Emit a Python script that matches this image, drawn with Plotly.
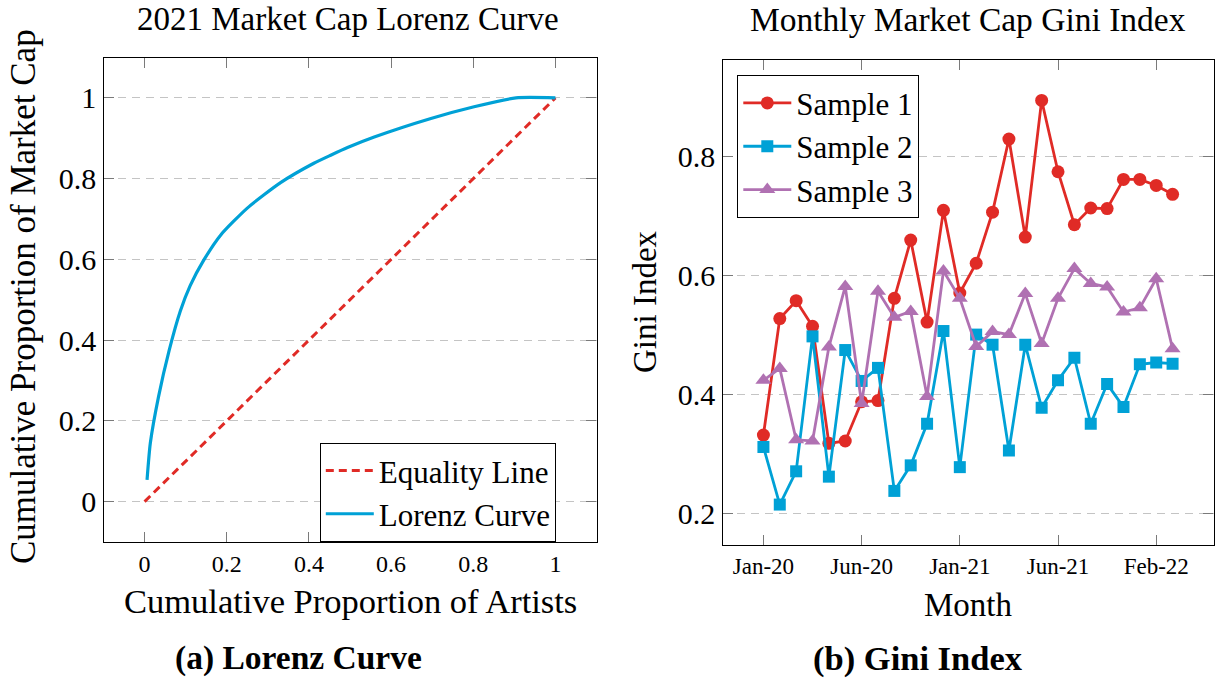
import plotly.graph_objects as go

# ---------------- data ----------------
lorenz_x = [0.006, 0.014, 0.034, 0.06, 0.087, 0.111, 0.144, 0.185, 0.25, 0.331,
            0.412, 0.453, 0.494, 0.559, 0.697, 0.802, 0.904, 1.0]
lorenz_y = [0.054, 0.145, 0.26, 0.375, 0.472, 0.535, 0.598, 0.660, 0.727, 0.790,
            0.838, 0.858, 0.877, 0.903, 0.949, 0.978, 1.0, 1.0]
equality_x = [0, 1]
equality_y = [0, 1]

lorenz_ticks = [0, 0.2, 0.4, 0.6, 0.8, 1]
lorenz_ticktext = ["0", "0.2", "0.4", "0.6", "0.8", "1"]

month_index = list(range(26))
sample1 = [0.332, 0.528, 0.558, 0.515, 0.318, 0.322, 0.388, 0.390, 0.562, 0.660, 0.522, 0.710,
           0.571, 0.621, 0.707, 0.830, 0.665, 0.895, 0.775, 0.686, 0.714, 0.713, 0.762, 0.762,
           0.752, 0.737]
sample2 = [0.312, 0.215, 0.271, 0.498, 0.262, 0.475, 0.423, 0.445, 0.238, 0.281, 0.351, 0.507,
           0.278, 0.501, 0.484, 0.306, 0.484, 0.378, 0.424, 0.462, 0.351, 0.418, 0.379, 0.451,
           0.454, 0.452]
sample3 = [0.424, 0.444, 0.324, 0.322, 0.480, 0.582, 0.385, 0.574, 0.530, 0.540, 0.397, 0.608,
           0.562, 0.481, 0.506, 0.501, 0.570, 0.486, 0.562, 0.612, 0.587, 0.581, 0.539, 0.546,
           0.595, 0.477]
month_tickvals = [0, 6, 12, 18, 24]
month_ticktext = ["Jan-20", "Jun-20", "Jan-21", "Jun-21", "Feb-22"]
gini_ticks = [0.2, 0.4, 0.6, 0.8]
gini_ticktext = ["0.2", "0.4", "0.6", "0.8"]

# ---------------- styling ----------------
FONT = "Liberation Serif"
RED = "#E02B26"
BLUE = "#00A1D6"
PURPLE = "#B071B2"
GRID = "#C4C4C4"
TICKC = "#7A7A7A"

W, H = 1215, 678


def px_x(p):
    return p / W


def px_y(p):
    return 1 - p / H


fig = go.Figure()

fig.add_trace(go.Scatter(x=equality_x, y=equality_y, mode="lines", name="Equality Line",
                         line=dict(color=RED, width=3, dash="8px,5px"),
                         xaxis="x", yaxis="y", legend="legend"))
fig.add_trace(go.Scatter(x=lorenz_x, y=lorenz_y, mode="lines", name="Lorenz Curve",
                         line=dict(color=BLUE, width=3.2, shape="spline", smoothing=0.6),
                         xaxis="x", yaxis="y", legend="legend"))

fig.add_trace(go.Scatter(x=month_index, y=sample1, mode="lines+markers", name="Sample 1",
                         line=dict(color=RED, width=2.8),
                         marker=dict(symbol="circle", size=13, color=RED),
                         xaxis="x2", yaxis="y2", legend="legend2"))
fig.add_trace(go.Scatter(x=month_index, y=sample2, mode="lines+markers", name="Sample 2",
                         line=dict(color=BLUE, width=2.8),
                         marker=dict(symbol="square", size=12, color=BLUE),
                         xaxis="x2", yaxis="y2", legend="legend2"))
fig.add_trace(go.Scatter(x=month_index, y=sample3, mode="lines+markers", name="Sample 3",
                         line=dict(color=PURPLE, width=2.8),
                         marker=dict(symbol="triangle-up", size=14, color=PURPLE),
                         xaxis="x2", yaxis="y2", legend="legend2"))

axis_common = dict(showline=True, linecolor="black", linewidth=1.3, mirror="ticks",
                   ticks="inside", ticklen=10, tickcolor=TICKC, tickwidth=1,
                   zeroline=False)

fig.update_layout(
    width=W, height=H, autosize=False,
    margin=dict(l=0, r=0, t=0, b=0),
    paper_bgcolor="white", plot_bgcolor="white",
    font=dict(family=FONT, color="black"),
    showlegend=True,
    xaxis=dict(domain=[px_x(103.5), px_x(596.5)], range=[-0.1, 1.1],
               tickvals=lorenz_ticks, ticktext=lorenz_ticktext,
               tickfont=dict(size=24, family=FONT), showgrid=False,
               anchor="y", **axis_common),
    yaxis=dict(domain=[px_y(542), px_y(57.5)], range=[-0.1, 1.1],
               tickvals=lorenz_ticks, ticktext=lorenz_ticktext,
               tickfont=dict(size=30, family=FONT), showgrid=True,
               gridcolor=GRID, griddash="8px,6px", gridwidth=1,
               anchor="x", **axis_common),
    xaxis2=dict(domain=[px_x(722.5), px_x(1213.5)], range=[-2.5, 27.5],
                tickvals=month_tickvals, ticktext=month_ticktext,
                tickfont=dict(size=23, family=FONT), showgrid=False,
                anchor="y2", **axis_common),
    yaxis2=dict(domain=[px_y(545), px_y(60)], range=[0.147, 0.963],
                tickvals=gini_ticks, ticktext=gini_ticktext,
                tickfont=dict(size=30, family=FONT), showgrid=True,
                gridcolor=GRID, griddash="8px,6px", gridwidth=1,
                anchor="x2", **axis_common),
    legend=dict(x=px_x(319.5), y=px_y(442.5), xanchor="left", yanchor="top",
                bgcolor="white", bordercolor="black", borderwidth=1.3,
                font=dict(size=31, family=FONT), tracegroupgap=0, itemwidth=48),
    legend2=dict(x=px_x(737), y=px_y(75), xanchor="left", yanchor="top",
                 bgcolor="white", bordercolor="black", borderwidth=1.3,
                 font=dict(size=31, family=FONT), tracegroupgap=0, itemwidth=48),
)

annotations = [
    dict(text="2021 Market Cap Lorenz Curve", x=px_x(348), y=px_y(19), size=33),
    dict(text="Monthly Market Cap Gini Index", x=px_x(968), y=px_y(20), size=33.5),
    dict(text="Cumulative Proportion of Artists", x=px_x(350), y=px_y(601), size=34.5),
    dict(text="Month", x=px_x(968), y=px_y(605), size=33),
    dict(text="Cumulative Proportion of Market Cap", x=px_x(23), y=px_y(297), size=35, angle=-90),
    dict(text="Gini Index", x=px_x(645), y=px_y(302), size=33, angle=-90),
    dict(text="<b>(a) Lorenz Curve</b>", x=px_x(298), y=px_y(658), size=33.5),
    dict(text="<b>(b) Gini Index</b>", x=px_x(918), y=px_y(658), size=34.5),
]
for a in annotations:
    fig.add_annotation(text=a["text"], x=a["x"], y=a["y"], xref="paper", yref="paper",
                       xanchor="center", yanchor="middle", showarrow=False,
                       textangle=a.get("angle", 0),
                       font=dict(family=FONT, size=a["size"], color="black"))

fig.write_html("out.html")
